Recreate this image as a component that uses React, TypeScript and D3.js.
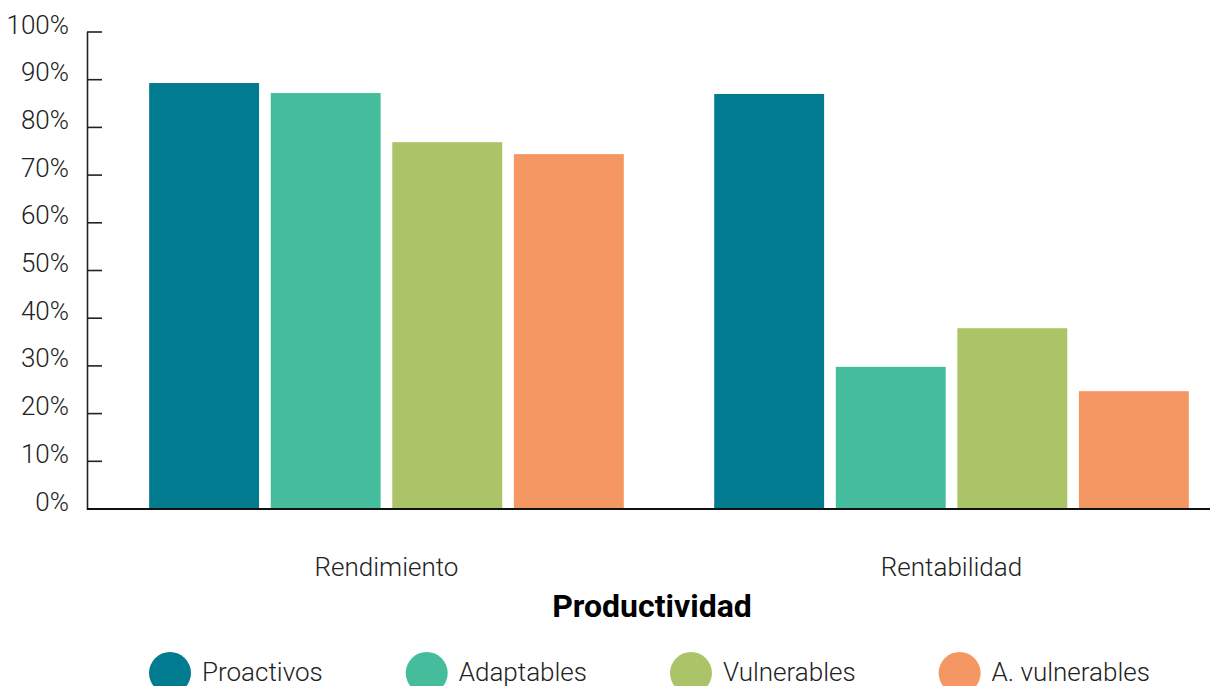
import React, { useEffect, useRef } from "react";
import * as d3 from "d3";

const categories = ["Rendimiento", "Rentabilidad"];
const seriesNames = ["Proactivos", "Adaptables", "Vulnerables", "A. vulnerables"];
const seriesColors = ["#007B8F", "#45BD9D", "#AAC467", "#F59762"];
const proactivos = [89.3, 87.0];
const adaptables = [87.2, 29.8];
const vulnerables = [76.9, 37.9];
const aVulnerables = [74.4, 24.7];
const yTicks = [0, 10, 20, 30, 40, 50, 60, 70, 80, 90, 100];
const xTitle = "Productividad";

const W = 1210;
const H = 686;
const FONT = "Roboto, 'Noto Sans', sans-serif";

export default function App() {
  const ref = useRef<SVGSVGElement | null>(null);

  useEffect(() => {
    const svg = d3.select(ref.current);
    svg.selectAll("*").remove();

    const values = [proactivos, adaptables, vulnerables, aVulnerables];
    const rows = categories.map((c, i) => ({
      cat: c,
      vals: seriesNames.map((s, j) => ({ s, v: values[j][i], color: seriesColors[j] })),
    }));

    const x0 = d3.scaleBand<string>().domain(categories).range([87, 1251]).paddingInner(0.16).paddingOuter(0.11);
    const x1 = d3.scaleBand<string>().domain(seriesNames).range([0, x0.bandwidth()]).paddingInner(0.096).paddingOuter(0);
    const y = d3.scaleLinear().domain([0, 100]).range([509, 32]);

    const g = svg.append("g");
    const groups = g
      .selectAll("g.grp")
      .data(rows)
      .join("g")
      .attr("class", "grp")
      .attr("transform", (d) => `translate(${x0(d.cat)},0)`);
    groups
      .selectAll("rect")
      .data((d) => d.vals)
      .join("rect")
      .attr("x", (d) => x1(d.s)!)
      .attr("width", x1.bandwidth())
      .attr("y", (d) => y(d.v))
      .attr("height", (d) => y(0) - y(d.v))
      .attr("fill", (d) => d.color);

    // y axis
    const ax = g.append("g");
    ax.append("line")
      .attr("x1", 87.5).attr("x2", 87.5)
      .attr("y1", y(100)).attr("y2", y(0) + 1)
      .attr("stroke", "#222").attr("stroke-width", 1.6);
    ax.selectAll("line.tick")
      .data(yTicks.filter((t) => t > 0))
      .join("line")
      .attr("class", "tick")
      .attr("x1", 87).attr("x2", 102)
      .attr("y1", (d) => y(d)).attr("y2", (d) => y(d))
      .attr("stroke", "#222").attr("stroke-width", 1.6);
    ax.selectAll("text")
      .data(yTicks)
      .join("text")
      .attr("x", 69)
      .attr("y", (d) => y(d) + 1.5)
      .attr("text-anchor", "end")
      .attr("font-family", FONT)
      .attr("font-weight", 300)
      .attr("font-size", 26)
      .attr("fill", "#222")
      .text((d) => `${d}%`);

    // x axis
    g.append("line")
      .attr("x1", 87).attr("x2", W)
      .attr("y1", y(0)).attr("y2", y(0))
      .attr("stroke", "#111").attr("stroke-width", 2);

    g.selectAll("text.cat")
      .data(categories)
      .join("text")
      .attr("class", "cat")
      .attr("x", (d) => x0(d)! + x0.bandwidth() / 2)
      .attr("y", 576)
      .attr("text-anchor", "middle")
      .attr("font-family", FONT)
      .attr("font-weight", 300)
      .attr("font-size", 26)
      .attr("fill", "#222")
      .text((d) => d);

    g.append("text")
      .attr("x", 652)
      .attr("y", 617)
      .attr("text-anchor", "middle")
      .attr("font-family", FONT)
      .attr("font-weight", 700)
      .attr("font-size", 32)
      .attr("fill", "#000")
      .text(xTitle);

    // legend
    const leg = g.append("g");
    const r = 21;
    const textGap = 11;
    const itemGap = 83;
    const items = leg
      .selectAll("g.item")
      .data(seriesNames)
      .join("g")
      .attr("class", "item");
    items
      .append("circle")
      .attr("cx", r)
      .attr("cy", 673)
      .attr("r", r)
      .attr("fill", (_d, i) => seriesColors[i]);
    items
      .append("text")
      .attr("x", 2 * r + textGap)
      .attr("y", 681)
      .attr("font-family", FONT)
      .attr("font-weight", 300)
      .attr("font-size", 26)
      .attr("fill", "#222")
      .text((d) => d);
    const widths: number[] = [];
    items.each(function () {
      const t = d3.select(this).select("text").node() as SVGTextElement;
      widths.push(t.getComputedTextLength());
    });
    const offset = 149;
    items.attr("transform", (_d, i) => {
      let o = offset;
      for (let k = 0; k < i; k++) o += 2 * r + textGap + widths[k] + itemGap;
      return `translate(${o},0)`;
    });
  }, []);

  return (
    <svg
      ref={ref}
      width={W}
      height={H}
      style={{ position: "absolute", left: 0, top: 0, background: "#fff" }}
    />
  );
}
